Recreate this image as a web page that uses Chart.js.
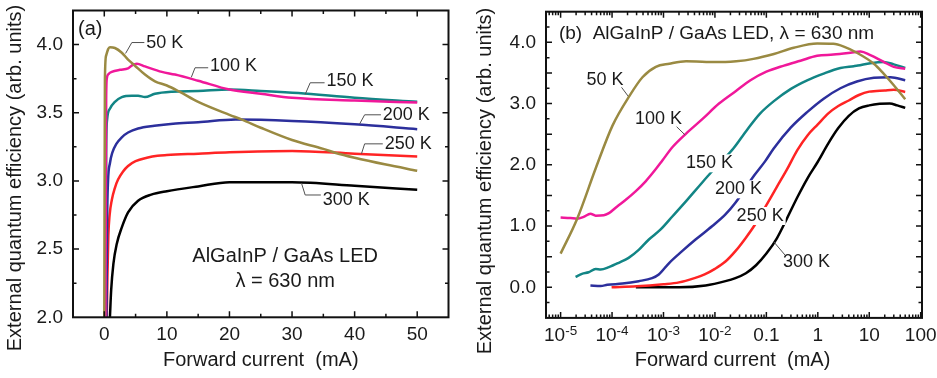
<!DOCTYPE html>
<html><head><meta charset="utf-8">
<script src="https://cdn.jsdelivr.net/npm/chart.js@4.4.0/dist/chart.umd.min.js"></script>
<style>
html,body{margin:0;padding:0;background:#fff;}
#wrap{position:relative;width:937px;height:378px;overflow:hidden;}
#ca{position:absolute;left:0;top:0;}
#cb{position:absolute;left:470px;top:0;}
</style></head><body>
<div id="wrap">
<canvas id="ca" width="470" height="378"></canvas>
<canvas id="cb" width="467" height="378"></canvas>
</div>
<script>
// ===== Panel (a): forward current (mA, linear) vs EQE (arb. units)
const aCur50  = [0, 0.1, 0.3, 0.6, 0.9, 1.7, 2.8, 3.8, 4.9, 6.5, 8.1, 10, 12, 15, 20, 22, 25, 30, 35, 37, 40, 45, 50];
const aEqe50  = [2.0, 3.75, 3.92, 3.965, 3.98, 3.975, 3.94, 3.89, 3.845, 3.78, 3.73, 3.70, 3.655, 3.58, 3.485, 3.45, 3.39, 3.30, 3.235, 3.205, 3.17, 3.12, 3.075];
const aCur100 = [0.2, 0.3, 0.4, 0.7, 1.2, 2.5, 3.8, 4.5, 5.2, 6.5, 9.2, 11.3, 15, 20, 25, 30, 40, 50];
const aEqe100 = [2.0, 3.6, 3.75, 3.785, 3.80, 3.815, 3.825, 3.85, 3.86, 3.84, 3.80, 3.78, 3.735, 3.67, 3.64, 3.61, 3.59, 3.575];
const aCur150 = [0.2, 0.3, 0.45, 0.9, 1.7, 2.8, 4.4, 5.4, 6.5, 8.1, 10.8, 15, 20, 25, 31, 40, 50];
const aEqe150 = [2.0, 3.2, 3.45, 3.53, 3.58, 3.615, 3.625, 3.625, 3.615, 3.64, 3.655, 3.66, 3.67, 3.66, 3.645, 3.61, 3.58];
const aCur200 = [0.35, 0.45, 0.6, 0.9, 1.3, 1.9, 2.8, 3.8, 5.4, 8, 11, 15, 21, 30, 40, 50];
const aEqe200 = [2.0, 2.7, 3.0, 3.13, 3.21, 3.27, 3.32, 3.355, 3.385, 3.405, 3.42, 3.43, 3.45, 3.44, 3.415, 3.38];
const aCur250 = [0.4, 0.5, 0.65, 0.85, 1.2, 1.7, 2.2, 3, 3.8, 5, 6.8, 8.5, 10, 15, 20, 30, 40, 50];
const aEqe250 = [2.0, 2.3, 2.6, 2.75, 2.86, 2.95, 3.01, 3.07, 3.11, 3.145, 3.17, 3.185, 3.19, 3.20, 3.21, 3.22, 3.20, 3.18];
const aCur300 = [0.9, 1.1, 1.45, 2.0, 2.8, 3.8, 5.4, 7.5, 10, 15, 20, 30, 40, 50];
const aEqe300 = [2.0, 2.2, 2.39, 2.54, 2.66, 2.77, 2.855, 2.90, 2.925, 2.96, 2.99, 2.99, 2.965, 2.935];

// ===== Panel (b): forward current (mA, log) vs EQE (arb. units)
const bCur50  = [1e-5, 2.1e-5, 4.9e-5, 1.02e-4, 2.2e-4, 3.9e-4, 7.1e-4, 1.3e-3, 2.75e-3, 6.8e-3, 0.016, 0.026, 0.056, 0.14, 0.34, 0.97, 2.0, 3.2, 5.75, 12.3, 19, 30, 50];
const bEqe50  = [0.55, 1.12, 1.96, 2.64, 3.13, 3.43, 3.60, 3.65, 3.69, 3.68, 3.68, 3.69, 3.73, 3.81, 3.91, 3.98, 3.975, 3.93, 3.83, 3.65, 3.49, 3.30, 3.07];
const bCur100 = [1e-5, 1.55e-5, 2.1e-5, 2.8e-5, 3.8e-5, 4.8e-5, 6.9e-5, 8.7e-5, 1.26e-4, 1.8e-4, 2.9e-4, 4.5e-4, 7.1e-4, 9.5e-4, 1.5e-3, 2.75e-3, 5.75e-3, 0.012, 0.026, 0.049, 0.10, 0.22, 0.46, 0.97, 2.0, 4.3, 6.8, 10.5, 19, 30, 50];
const bEqe100 = [1.14, 1.13, 1.12, 1.15, 1.20, 1.17, 1.175, 1.21, 1.32, 1.42, 1.57, 1.73, 1.93, 2.07, 2.29, 2.51, 2.75, 3.0, 3.21, 3.38, 3.52, 3.62, 3.70, 3.78, 3.80, 3.83, 3.85, 3.79, 3.68, 3.60, 3.57];
const bCur150 = [1.95e-5, 2.6e-5, 3.5e-5, 4.8e-5, 6.0e-5, 8.7e-5, 1.35e-4, 2.1e-4, 3.3e-4, 5.2e-4, 8.7e-4, 1.5e-3, 2.7e-3, 4.9e-3, 8.3e-3, 0.014, 0.023, 0.042, 0.076, 0.14, 0.30, 0.62, 1.3, 2.75, 5.0, 6.0, 10.5, 19, 30, 50];
const bEqe150 = [0.17, 0.22, 0.245, 0.30, 0.29, 0.33, 0.40, 0.48, 0.61, 0.78, 0.94, 1.16, 1.40, 1.65, 1.87, 2.07, 2.27, 2.57, 2.84, 3.04, 3.24, 3.38, 3.49, 3.58, 3.61, 3.62, 3.66, 3.68, 3.64, 3.58];
const bCur200 = [3.8e-5, 6.0e-5, 8.1e-5, 1.6e-4, 3.3e-4, 6.0e-4, 8.1e-4, 1.3e-3, 2.3e-3, 4.2e-3, 8.9e-3, 0.016, 0.025, 0.056, 0.095, 0.14, 0.30, 0.62, 1.3, 2.75, 5.75, 12.3, 26, 50];
const bEqe200 = [0.03, 0.02, 0.04, 0.06, 0.10, 0.15, 0.21, 0.40, 0.59, 0.78, 1.0, 1.19, 1.38, 1.81, 2.06, 2.27, 2.61, 2.86, 3.08, 3.25, 3.36, 3.42, 3.43, 3.38];
const bCur250 = [9.8e-5, 3.0e-4, 1.0e-3, 2.0e-3, 4.0e-3, 6.3e-3, 0.010, 0.016, 0.025, 0.040, 0.063, 0.10, 0.16, 0.25, 0.40, 0.63, 1.0, 1.6, 2.5, 4.0, 6.3, 10, 20, 30, 50];
const bEqe250 = [0.0, 0.015, 0.05, 0.08, 0.15, 0.21, 0.30, 0.42, 0.59, 0.81, 1.05, 1.34, 1.64, 1.92, 2.24, 2.48, 2.66, 2.84, 2.96, 3.05, 3.14, 3.195, 3.215, 3.225, 3.19];
const bCur300 = [2.9e-4, 2.0e-3, 6.6e-3, 0.016, 0.025, 0.040, 0.063, 0.10, 0.16, 0.25, 0.40, 0.63, 1.0, 1.6, 2.5, 4.0, 6.3, 10, 16, 25, 35, 50];
const bEqe300 = [0.0, 0.0, 0.03, 0.10, 0.15, 0.23, 0.36, 0.55, 0.80, 1.12, 1.47, 1.78, 2.05, 2.35, 2.60, 2.80, 2.92, 2.97, 2.995, 3.0, 2.97, 2.93];

const tempLabels = ['50 K', '100 K', '150 K', '200 K', '250 K', '300 K'];
const lineColors = ['#9a8a42', '#f0189a', '#128585', '#2c2f9c', '#ff2424', '#000000'];

// tick labels
const aXTickValues = [0, 10, 20, 30, 40, 50];
const aXTickLabels = ['0', '10', '20', '30', '40', '50'];
const aYTickValues = [2.0, 2.5, 3.0, 3.5, 4.0];
const aYTickLabels = ['2.0', '2.5', '3.0', '3.5', '4.0'];
const bYTickValues = [0, 1, 2, 3, 4];
const bYTickLabels = ['0.0', '1.0', '2.0', '3.0', '4.0'];
const bXTickExps   = [-5, -4, -3, -2, -1, 0, 1, 2];
const bXTickLabels = [['10','-5'], ['10','-4'], ['10','-3'], ['10','-2'], ['0.1',''], ['1',''], ['10',''], ['100','']];

const yTitle = 'External quantum efficiency (arb. units)';
const xTitle = 'Forward current  (mA)';

const FONT = "'Liberation Sans', Arial, Helvetica, sans-serif";
const TXT = '#1a1a1a';

function pairs(xs, ys) { return xs.map((x, i) => ({x: x, y: ys[i]})); }
function makeSets(list) {
  return list.map((s, i) => ({
    label: tempLabels[i], data: pairs(s[0], s[1]),
    borderColor: lineColors[i], backgroundColor: lineColors[i],
    borderWidth: 2.5, pointRadius: 0, fill: false,
    cubicInterpolationMode: 'monotone'
  }));
}
function findLabel(vals, labels, v) {
  for (let i = 0; i < vals.length; i++) if (Math.abs(vals[i] - v) < 1e-6) return labels[i];
  return '';
}
function near(v, step) { return Math.abs(v / step - Math.round(v / step)) < 1e-6; }

function panelPlugin(cfg) {
  return {
    id: 'panel_' + cfg.name,
    afterDatasetsDraw(chart) {
      const ctx = chart.ctx, xs = chart.scales.x, ys = chart.scales.y;
      ctx.save();
      ctx.textBaseline = 'middle';
      cfg.notes.forEach(n => {
        ctx.font = (n.size || 18) + 'px ' + FONT;
        ctx.textAlign = n.align || 'left';
        const tx = xs.getPixelForValue(n.x), ty = ys.getPixelForValue(n.y);
        if (n.box) {
          const w = ctx.measureText(n.text).width;
          ctx.fillStyle = '#fff';
          ctx.fillRect(tx - 2, ty - 9, w + 4, 18);
        }
        if (n.lead) {
          ctx.strokeStyle = '#505050'; ctx.lineWidth = 1;
          ctx.beginPath();
          n.lead.forEach((p, i) => {
            const px = xs.getPixelForValue(p[0]), py = ys.getPixelForValue(p[1]);
            if (i) ctx.lineTo(px, py); else ctx.moveTo(px, py);
          });
          ctx.stroke();
        }
        ctx.fillStyle = TXT;
        ctx.fillText(n.text, tx, ty);
      });
      ctx.restore();
    },
    afterDraw(chart) {
      const ctx = chart.ctx, a = chart.chartArea, xs = chart.scales.x, ys = chart.scales.y;
      ctx.save();
      ctx.strokeStyle = '#111';
      ctx.lineWidth = 1.5;
      ctx.beginPath();
      xs.ticks.forEach(t => {
        const px = xs.getPixelForValue(t.value);
        if (px < a.left + 1 || px > a.right - 1) return;
        const len = cfg.xMajor(t.value) ? 6 : 3.5;
        ctx.moveTo(px, a.bottom); ctx.lineTo(px, a.bottom - len);
        ctx.moveTo(px, a.top); ctx.lineTo(px, a.top + len);
      });
      ys.ticks.forEach(t => {
        const py = ys.getPixelForValue(t.value);
        if (py < a.top + 1 || py > a.bottom - 1) return;
        const len = cfg.yMajor(t.value) ? 6 : 3.5;
        ctx.moveTo(a.left, py); ctx.lineTo(a.left + len, py);
        ctx.moveTo(a.right, py); ctx.lineTo(a.right - len, py);
      });
      ctx.stroke();
      ctx.lineWidth = 2;
      ctx.strokeRect(a.left, a.top, a.right - a.left, a.bottom - a.top);
      // axis titles
      ctx.fillStyle = TXT;
      ctx.font = '20px ' + FONT;
      ctx.textAlign = 'center'; ctx.textBaseline = 'middle';
      ctx.fillText(xTitle, (a.left + a.right) / 2 + cfg.xTitleDx, 360);
      ctx.save();
      ctx.translate(15, cfg.yTitleCy);
      ctx.rotate(-Math.PI / 2);
      ctx.fillText(yTitle, 0, 0);
      ctx.restore();
      if (cfg.logLabels) cfg.logLabels(chart);
      ctx.restore();
    }
  };
}

function axisStyleY(min, max, step, vals, labels, width) {
  return {
    type: 'linear', min: min, max: max,
    grid: {display: false, drawTicks: false}, border: {display: false},
    ticks: {stepSize: step, autoSkip: false, padding: 10, color: TXT,
      font: {family: FONT, size: 19},
      callback: v => findLabel(vals, labels, v)},
    afterFit: s => { s.width = width; s.paddingTop = 0; s.paddingBottom = 0; }
  };
}

// ---------- Chart (a)
new Chart(document.getElementById('ca'), {
  type: 'line',
  data: {datasets: makeSets([[aCur50, aEqe50], [aCur100, aEqe100], [aCur150, aEqe150], [aCur200, aEqe200], [aCur250, aEqe250], [aCur300, aEqe300]])},
  options: {
    responsive: false, animation: false, devicePixelRatio: 1,
    layout: {padding: {left: 0, right: 21.5, top: 10.5, bottom: 0}},
    plugins: {legend: {display: false}, tooltip: {enabled: false}},
    scales: {
      x: {
        type: 'linear', min: -5, max: 55,
        grid: {display: false, drawTicks: false}, border: {display: false},
        ticks: {stepSize: 5, autoSkip: false, maxRotation: 0, padding: 6, color: TXT,
          font: {family: FONT, size: 19},
          callback: v => findLabel(aXTickValues, aXTickLabels, v)},
        afterFit: s => { s.height = 60.7; s.paddingLeft = 0; s.paddingRight = 0; }
      },
      y: axisStyleY(2.0, 4.25, 0.25, aYTickValues, aYTickLabels, 73)
    }
  },
  plugins: [panelPlugin({
    name: 'a',
    xMajor: v => near(v, 10),
    yMajor: v => near(v, 0.5),
    xTitleDx: 0, yTitleCy: 178,
    notes: [
      {text: '50 K',  x: 6.7,  y: 4.015, lead: [[3.4, 3.935], [4.4, 4.015], [6.4, 4.015]]},
      {text: '100 K', x: 16.9, y: 3.84,  lead: [[13.9, 3.76], [14.5, 3.83], [16.6, 3.83]]},
      {text: '150 K', x: 35.5, y: 3.73,  lead: [[32.1, 3.635], [32.9, 3.72], [35.2, 3.72]]},
      {text: '200 K', x: 44.5, y: 3.485, lead: [[40.8, 3.418], [41.6, 3.485], [44.2, 3.485]]},
      {text: '250 K', x: 44.8, y: 3.272, lead: [[41.1, 3.20], [41.6, 3.272], [44.5, 3.272]]},
      {text: '300 K', x: 34.9, y: 2.86,  lead: [[31.5, 2.985], [32.1, 2.897], [34.6, 2.897]]},
      {text: '(a)', x: -4.2, y: 4.11, size: 20},
      {text: 'AlGaInP / GaAs LED', x: 28.9, y: 2.445, size: 20, align: 'center'},
      {text: 'λ = 630 nm', x: 28.9, y: 2.26, size: 20, align: 'center'}
    ]
  })]
});

// ---------- Chart (b)
function logTickValues(min, max) {
  const out = [];
  for (let e = -6; e <= 2; e++) for (let m = 1; m <= 9; m++) {
    const v = m * Math.pow(10, e);
    if (v >= min && v <= max) out.push({value: v});
  }
  return out;
}
function drawLogLabels(chart) {
  const ctx = chart.ctx, xs = chart.scales.x;
  ctx.save();
  ctx.fillStyle = TXT; ctx.textBaseline = 'alphabetic'; ctx.textAlign = 'left';
  bXTickExps.forEach((e, i) => {
    const px = xs.getPixelForValue(Math.pow(10, e));
    const main = bXTickLabels[i][0], sup = bXTickLabels[i][1];
    ctx.font = '19px ' + FONT;
    const w1 = ctx.measureText(main).width;
    ctx.font = '13.5px ' + FONT;
    const w2 = sup ? ctx.measureText(sup).width : 0;
    const x0 = px - (w1 + w2) / 2;
    ctx.font = '19px ' + FONT;
    ctx.fillText(main, x0, 341);
    if (sup) { ctx.font = '13.5px ' + FONT; ctx.fillText(sup, x0 + w1, 334.5); }
  });
  ctx.restore();
}

new Chart(document.getElementById('cb'), {
  type: 'line',
  data: {datasets: makeSets([[bCur50, bEqe50], [bCur100, bEqe100], [bCur150, bEqe150], [bCur200, bEqe200], [bCur250, bEqe250], [bCur300, bEqe300]])},
  options: {
    responsive: false, animation: false, devicePixelRatio: 1,
    layout: {padding: {left: 0, right: 15, top: 11.7, bottom: 0}},
    plugins: {legend: {display: false}, tooltip: {enabled: false}},
    scales: {
      x: {
        type: 'logarithmic', min: 5.2e-6, max: 106,
        grid: {display: false, drawTicks: false}, border: {display: false},
        afterBuildTicks: s => { s.ticks = logTickValues(5.2e-6, 106); },
        ticks: {autoSkip: false, maxRotation: 0, color: TXT, font: {family: FONT, size: 19},
          callback: () => ''},
        afterFit: s => { s.height = 60.1; s.paddingLeft = 0; s.paddingRight = 0; }
      },
      y: axisStyleY(-0.5, 4.5, 0.25, bYTickValues, bYTickLabels, 76)
    }
  },
  plugins: [panelPlugin({
    name: 'b',
    xMajor: v => Math.abs(Math.log10(v) - Math.round(Math.log10(v))) < 1e-6,
    yMajor: v => near(v, 0.5),
    xTitleDx: -1.5, yTitleCy: 181,
    logLabels: drawLogLabels,
    notes: [
      {text: '(b)  AlGaInP / GaAs LED, λ = 630 nm', x: 9.27e-6, y: 4.147, size: 19},
      {text: '50 K',  x: 3.2e-5,  y: 3.384, lead: [[1.53e-4, 3.265], [2.06e-4, 3.12]]},
      {text: '100 K', x: 2.79e-4, y: 2.748, lead: [[1.8e-3, 2.622], [2.61e-3, 2.49]]},
      {text: '150 K', x: 2.73e-3, y: 2.024, box: true},
      {text: '200 K', x: 1.0e-2,  y: 1.60,  box: true},
      {text: '250 K', x: 0.0264,  y: 1.164, box: true},
      {text: '300 K', x: 0.21,    y: 0.418, lead: [[0.14, 0.74], [0.23, 0.527]]}
    ]
  })]
});
</script>
</body></html>
